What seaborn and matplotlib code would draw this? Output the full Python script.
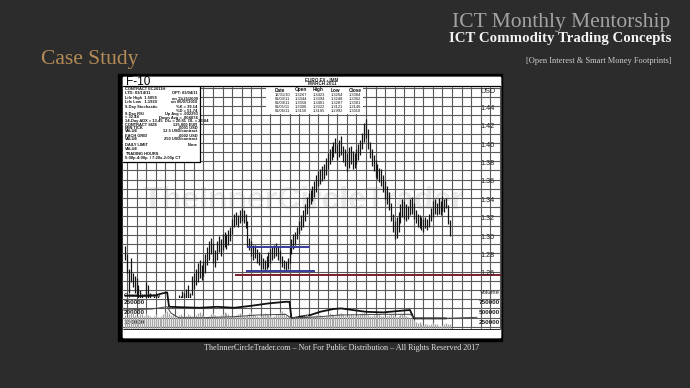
import numpy as np
import matplotlib
matplotlib.use("Agg")
import matplotlib.pyplot as plt
import matplotlib.transforms as mtransforms
from matplotlib.patches import Rectangle
import seaborn as sns

sns.set_style("white")
plt.rcParams['font.family'] = ['Liberation Sans', 'DejaVu Sans']

# ---------------- data ----------------
bar_x = list(range(-1, 170))          # trading-day slot of each daily bar
lows = [1.273, 1.259, 1.237, 1.249, 1.243, 1.237, 1.233, 1.225, 1.219, 1.212,
        1.205, 1.219, 1.223, 1.215, 1.209, 1.215, 1.221, 1.217, 1.207, 1.209,
        1.201, 1.185, 1.187, 1.189, 1.193, 1.197, 1.203, 1.209, 1.217, 1.219,
        1.223, 1.219, 1.223, 1.227, 1.221, 1.235, 1.241, 1.245, 1.249, 1.253,
        1.251, 1.255, 1.259, 1.267, 1.273, 1.279, 1.269, 1.265, 1.273, 1.281,
        1.277, 1.283, 1.287, 1.285, 1.289, 1.293, 1.301, 1.309, 1.311, 1.309,
        1.313, 1.315, 1.313, 1.307, 1.287, 1.283, 1.277, 1.273, 1.275, 1.269,
        1.267, 1.263, 1.263, 1.261, 1.263, 1.265, 1.269, 1.273, 1.275, 1.277,
        1.273, 1.269, 1.265, 1.263, 1.261, 1.263, 1.269, 1.279, 1.285, 1.289,
        1.295, 1.301, 1.305, 1.309, 1.315, 1.323, 1.329, 1.333, 1.337, 1.341,
        1.347, 1.353, 1.355, 1.359, 1.361, 1.365, 1.371, 1.377, 1.381, 1.385,
        1.389, 1.381, 1.385, 1.387, 1.379, 1.375, 1.369, 1.373, 1.377, 1.371,
        1.373, 1.377, 1.381, 1.387, 1.393, 1.401, 1.405, 1.393, 1.383, 1.375,
        1.369, 1.363, 1.361, 1.357, 1.353, 1.347, 1.339, 1.333, 1.327, 1.315,
        1.303, 1.295, 1.297, 1.303, 1.313, 1.319, 1.317, 1.315, 1.317, 1.321,
        1.323, 1.317, 1.313, 1.309, 1.307, 1.305, 1.303, 1.307, 1.305, 1.309,
        1.315, 1.319, 1.323, 1.321, 1.323, 1.322, 1.3264, 1.3248, 1.3287, 1.3121,
        1.2992]
highs = [1.288, 1.279, 1.263, 1.275, 1.259, 1.255, 1.253, 1.245, 1.240, 1.233,
         1.225, 1.249, 1.245, 1.237, 1.229, 1.233, 1.237, 1.233, 1.225, 1.227,
         1.223, 1.207, 1.203, 1.207, 1.209, 1.215, 1.221, 1.229, 1.235, 1.233,
         1.239, 1.237, 1.241, 1.245, 1.237, 1.255, 1.259, 1.263, 1.269, 1.273,
         1.267, 1.271, 1.279, 1.287, 1.293, 1.297, 1.291, 1.283, 1.293, 1.299,
         1.295, 1.301, 1.303, 1.301, 1.305, 1.309, 1.317, 1.323, 1.325, 1.321,
         1.327, 1.329, 1.327, 1.323, 1.315, 1.297, 1.293, 1.289, 1.289, 1.285,
         1.281, 1.279, 1.275, 1.273, 1.277, 1.281, 1.285, 1.287, 1.289, 1.291,
         1.287, 1.283, 1.277, 1.273, 1.271, 1.275, 1.287, 1.295, 1.301, 1.303,
         1.309, 1.315, 1.321, 1.327, 1.333, 1.341, 1.345, 1.349, 1.353, 1.359,
         1.365, 1.369, 1.371, 1.375, 1.377, 1.383, 1.389, 1.393, 1.397, 1.401,
         1.405, 1.399, 1.403, 1.407, 1.397, 1.393, 1.389, 1.395, 1.397, 1.391,
         1.389, 1.393, 1.399, 1.403, 1.411, 1.421, 1.426, 1.415, 1.401, 1.393,
         1.387, 1.381, 1.377, 1.373, 1.371, 1.365, 1.359, 1.353, 1.347, 1.335,
         1.323, 1.315, 1.319, 1.325, 1.333, 1.339, 1.337, 1.333, 1.331, 1.339,
         1.341, 1.335, 1.327, 1.323, 1.321, 1.319, 1.317, 1.319, 1.317, 1.323,
         1.329, 1.337, 1.339, 1.335, 1.340, 1.337, 1.3423, 1.3394, 1.3401, 1.3322,
         1.3165]
volume_k = [420, 380, 450, 510, 470, 430, 390, 410, 460, 440,
            400, 480, 420, 390, 360, 410, 440, 380, 350, 400,
            460, 500, 520, 470, 430, 450, 410, 380, 420, 440,
            390, 370, 410, 450, 430, 400, 380, 420, 470, 490,
            450, 420, 380, 360, 400, 440, 470, 430, 410, 390,
            420, 460, 500, 480, 440, 410, 380, 400, 430, 450,
            470, 440, 410, 390, 420, 480, 510, 460, 430, 400,
            380, 410, 450, 470, 440, 420, 400, 380, 410, 440,
            460, 490, 520, 480, 430, 400, 370, 350, 380, 410,
            400, 380, 360, 390, 420, 440, 410, 390, 370, 400,
            430, 450, 420, 400, 380, 410, 440, 470, 450, 420,
            400, 430, 460, 480, 440, 410, 390, 420, 450, 430,
            410, 390, 420, 440, 470, 490, 460, 430, 410, 390,
            420, 450, 470, 440, 410, 390, 370, 400, 430, 450,
            420, 400, 380, 410, 440, 460, 430, 400, 380, 360,
            340, 300, 260, 220, 240, 200, 180, 210, 190, 170,
            200, 230, 210, 190, 160, 140, 170, 200, 220, 190,
            210]
oi_x = [-1, 8, 15, 18, 21, 22, 38, 47, 56, 65, 74, 83, 85, 86,
        90, 96, 101, 108, 112, 118, 125, 134, 143, 148, 150, 157, 167]
oi_val = [282000, 280000, 283000, 292000, 298000, 226000, 221000, 226000, 221000,
          231000, 243000, 251000, 251000, 168000, 176000, 185000, 201000, 215000,
          218000, 210000, 201000, 198000, 206000, 210000, 168000, 168000, 168000]
vma_x = [-2, 13, 21, 23, 27, 39, 56, 68, 83, 86, 90, 101, 111, 134, 148, 151, 167, 183]
vma_val = [550000, 575000, 632000, 475000, 357000, 357000, 382000, 425000, 442000,
           342000, 357000, 382000, 425000, 442000, 442000, 342000, 342000, 367000]
price_ticks = [1.44, 1.42, 1.40, 1.38, 1.36, 1.34, 1.32, 1.30, 1.28, 1.26]
oi_ticks = [250000, 200000, 150000]
vol_ticks = [750000, 500000, 250000]
month_labels = ["MAY 2010", "JUN", "JUL", "AUG", "SEP", "OCT", "NOV", "DEC", "JAN 2011"]
month_pos = [-2, 22, 43, 67, 88, 108, 130, 152, 172]
day_labels = ["3", "10", "17", "24", "31", "7", "14", "21", "28", "5", "12", "19", "26",
              "2", "9", "16", "23", "30", "6", "13", "20", "27", "4", "11", "18", "25",
              "1", "8", "15", "22", "29", "6", "13", "20", "27", "3", "10", "17", "24", "31"]
level_prices = [1.2864, 1.2610, 1.2568]
level_start = [62.8, 62.2, 56.5]
level_end = [95.7, 98.3, 195.6]
level_colors = ['#3b3b9c', '#3b3b9c', '#7a1f2e']
table_cols = ["Date", "Open", "High", "Low", "Close"]
table_rows = [["12/31/10", "1.3267", "1.3423", "1.3264", "1.3384"],
              ["01/03/11", "1.3344", "1.3394", "1.3248", "1.3362"],
              ["01/04/11", "1.3358", "1.3401", "1.3287", "1.3301"],
              ["01/05/11", "1.3306", "1.3322", "1.3121", "1.3146"],
              ["01/06/11", "1.3150", "1.3165", "1.2992", "1.3010"]]
info_left = ["CONTRACT EC2011H", "LTD: 03/14/11", "Life High  1.5058", "Life Low   1.1930",
             "9-Day Stochastic", "", "9-Day RSI", "= 32.44",
             "14-Day ADX = 13.45  DI+ = 20.81  DI- = 23.84", "CONTRACT SIZE", "MIN TICK",
             "VALUE", "EACH GRID", "VALUE", "DAILY LIMIT", "VALUE", "TRADING HOURS",
             "5:00p-4:00p  / 7:20a-2:00p CT"]
info_right = ["", "OPT: 03/04/11", "on 11/25/2009", "on 06/07/2010", "%K = 39.14",
              "%D = 51.74", "Up Avg = .002293", "Down Avg = .004074", "", "125,000 EUR",
              ".0001 USD", "12.5 USD/contract", ".0002 USD", "250 USD/contract", "None",
              "", "", ""]
info_y = [88.5, 93, 98.5, 102, 107, 110.5, 114, 117.5, 121, 124.5, 128, 131.5,
          136, 139.5, 145, 148.5, 154, 158]

# ---------------- layout ----------------
W, H = 690, 388
BG = '#2c2c2d'
fig = plt.figure(figsize=(6.9, 3.88), dpi=100, facecolor=BG)


def box(x0, y0, x1, y1):
    return [x0 / W, 1 - y1 / H, (x1 - x0) / W, (y1 - y0) / H]


bg = fig.add_axes([0, 0, 1, 1])
bg.set_xlim(0, W); bg.set_ylim(H, 0); bg.axis('off')
bg.add_patch(Rectangle((118, 74), 384, 267, color='black'))
bg.add_patch(Rectangle((122.5, 77), 377.5, 260, color='white'))
bg.text(303, 201, "TheInnerCircleTrader", fontsize=23, fontweight='bold',
        color='#e9e9e9', ha='center', va='center')

# price panel: pixel x = 127 + idx*1.912 ; pixel y = 106 + (1.44-p)*920
PX, PY = 1.912, 920.0
ax = fig.add_axes(box(122, 86, 501, 328.5))
ax.set_xlim(-5 / PX, (501 - 127) / PX)
ax.set_ylim(1.44 - (328.5 - 106) / PY, 1.44 + 20 / PY)
ax.axis('off')
ax.patch.set_alpha(0)
grid_c = '#5a5a5a'
ax.hlines(np.arange(1.20, 1.465, 0.01), -5, 200, colors=grid_c, lw=0.8, zorder=1)
ax.vlines(np.arange(0, 200, 5), 1.0, 2.0, colors=grid_c, lw=0.8, zorder=1)
bars = ax.vlines(bar_x, lows, highs, colors='#151515', lw=0.9, zorder=3)
clip = Rectangle((-5, 1.44 - (298 - 106) / PY), 210, 1.0, transform=ax.transData)
bars.set_clip_path(clip)
for p, x0, x1, c in zip(level_prices, level_start, level_end, level_colors):
    ax.hlines(p, x0, x1, colors=c, lw=1.4, zorder=4)
ytr = mtransforms.blended_transform_factory(ax.transAxes, ax.transData)
for t in price_ticks:
    ax.text(0.945, t - 0.0025, f"{t:.2f}", transform=ytr, fontsize=5.2, ha='left',
            va='center', color='#222222', zorder=5)
ax.text(0.945, 1.44 + 0.016, "USD", transform=ytr, fontsize=5.2, ha='left',
        va='center', color='#222222', zorder=5)

# lower panel: open interest and volume
ax_oi = fig.add_axes(box(122, 288, 501, 329))
ax_oi.set_xlim(ax.get_xlim()); ax_oi.set_ylim(115000, 320000)
ax_oi.axis('off'); ax_oi.patch.set_alpha(0)
ax_vol = fig.add_axes(box(122, 288, 501, 329))
ax_vol.set_xlim(ax.get_xlim()); ax_vol.set_ylim(75000, 1100000)
ax_vol.axis('off'); ax_vol.patch.set_alpha(0)
ax_vol.vlines(bar_x, 0, np.array(volume_k) * 1000, colors='#a8a8a8', lw=0.9, zorder=2)
sns.lineplot(x=vma_x, y=vma_val, ax=ax_vol, color='#444444', lw=0.7, zorder=3)
sns.lineplot(x=oi_x, y=oi_val, ax=ax_oi, color='#111111', lw=1.3, zorder=4)
ax_oi.axis('off'); ax_vol.axis('off')
otr = mtransforms.blended_transform_factory(ax_oi.transAxes, ax_oi.transData)
vtr = mtransforms.blended_transform_factory(ax_vol.transAxes, ax_vol.transData)
ax_oi.text(0.005, 285000, "Open Interest", transform=otr, fontsize=4.3, ha='left',
           va='center', color='#222222')
for t in oi_ticks:
    ax_oi.text(0.005, t, f"{t}", transform=otr, fontsize=4.6, fontweight='bold',
               ha='left', va='center', color='#222222')
ax_vol.text(0.998, 975000, "Volume", transform=vtr, fontsize=4.3, ha='right',
            va='center', color='#222222')
for t in vol_ticks:
    ax_vol.text(0.998, t, f"{t}", transform=vtr, fontsize=4.6, fontweight='bold',
                ha='right', va='center', color='#222222')

# ---------------- overlay: header, info box, table, date strip ----------------
ov = fig.add_axes([0, 0, 1, 1])
ov.set_xlim(0, W); ov.set_ylim(H, 0); ov.axis('off'); ov.patch.set_alpha(0)
ov.add_patch(Rectangle((122.5, 77), 377.5, 9, color='white'))
ov.plot([122.5, 500], [86, 86], color='black', lw=0.9)
ov.add_patch(Rectangle((122.5, 86), 77.5, 76, facecolor='white', edgecolor='none'))
ov.plot([200, 200], [86, 162], color='black', lw=0.9)
ov.plot([122.5, 200], [162, 162], color='black', lw=0.9)
ov.add_patch(Rectangle((266, 86.5), 97, 27, facecolor='white', edgecolor='none'))
ov.add_patch(Rectangle((122.5, 329), 377.5, 8, color='white'))
ov.plot([122.5, 500], [329, 329], color='black', lw=0.6)
ov.text(126, 82, "F-10", fontsize=8.5, ha='left', va='center', color='black')
ov.text(322, 80, "EURO FX - IMM", fontsize=3.3, fontweight='bold', ha='center', va='center')
ov.text(322, 83.8, "MARCH 2011", fontsize=3.3, fontweight='bold', ha='center', va='center')
for txt, y in zip(info_left, info_y):
    ov.text(125, y, txt, fontsize=2.9, fontweight='bold', ha='left', va='center', color='#111')
for txt, y in zip(info_right, info_y):
    ov.text(197.5, y, txt, fontsize=2.9, fontweight='bold', ha='right', va='center', color='#111')
col_x = [275, 295, 313, 331, 349]
for c, x in zip(table_cols, col_x):
    ov.text(x, 90, c, fontsize=3.4, fontweight='bold', ha='left', va='center', color='#111')
for r, row in enumerate(table_rows):
    for c, x in zip(row, col_x):
        ov.text(x, 95.5 + r * 3.8, c, fontsize=2.9, ha='left', va='center', color='#111')

dtr = mtransforms.blended_transform_factory(ax.transData, fig.transFigure)
for k, lab in enumerate(day_labels):
    ax.text(k * 5, 1 - 331.5 / H, lab, transform=dtr, fontsize=2.6, ha='center',
            va='center', color='#222', clip_on=False)
for lab, pos in zip(month_labels, month_pos):
    ax.text(pos, 1 - 334.8 / H, lab, transform=dtr, fontsize=2.8, ha='left',
            va='center', color='#222', clip_on=False)

# ---------------- slide texts ----------------
serif = ['Liberation Serif', 'DejaVu Serif']
fig.text(670 / W, 1 - 27 / H, "ICT Monthly Mentorship", family=serif, fontsize=15.5,
         color='#a3a3a3', ha='right', va='baseline')
fig.text(671 / W, 1 - 42 / H, "ICT Commodity Trading Concepts", family=serif,
         fontsize=10.7, fontweight='bold', color='#f2f2f2', ha='right', va='baseline')
fig.text(671 / W, 1 - 61 / H, "[Open Interest & Smart Money Footprints]", family=serif,
         fontsize=6, color='#d0d0d0', ha='right', va='center')
fig.text(41 / W, 1 - 64 / H, "Case Study", family=serif, fontsize=15.5,
         color='#b48b56', ha='left', va='baseline')
fig.text(342 / W, 1 - 348.5 / H,
         "TheInnerCircleTrader.com \u2013 Not For Public Distribution \u2013 All Rights Reserved 2017",
         family=serif, fontsize=5.9, color='#e2e2e2', ha='center', va='center')

fig.savefig("out.png", dpi=100, facecolor=BG)
